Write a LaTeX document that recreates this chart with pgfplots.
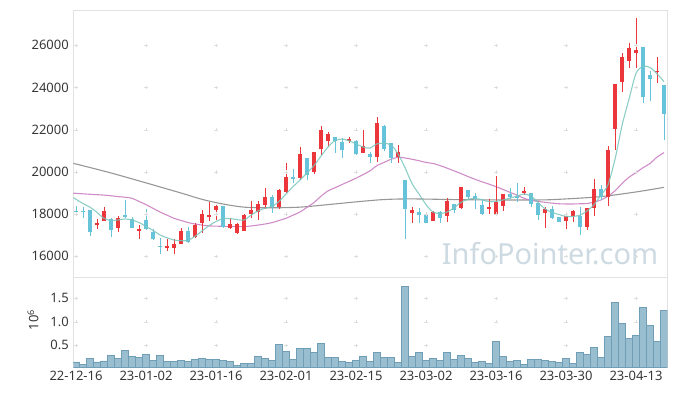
\documentclass[border=0pt]{standalone}
\usepackage{pgfplots}
\pgfplotsset{compat=1.18}
\usepackage{pgfplotstable}
\usepackage{fontspec}
\setmainfont{Noto Sans}
\definecolor{upc}{RGB}{235,55,60}
\definecolor{dnc}{RGB}{102,195,218}
\definecolor{ma5}{RGB}{120,198,188}
\definecolor{ma20}{RGB}{200,120,190}
\definecolor{ma60}{RGB}{140,140,140}
\definecolor{volf}{RGB}{152,190,208}
\definecolor{vole}{RGB}{112,158,182}
\definecolor{framec}{RGB}{226,226,226}
\definecolor{gridp}{RGB}{222,222,222}
\definecolor{labc}{RGB}{55,55,55}
\definecolor{wm}{RGB}{205,218,226}

\pgfplotstableread{
i o h l c
3 17500 17768 17279 17595
4 17690 18321 17690 18148
6 17358 17910 17136 17800
9 17230 17484 16805 17294
13 16394 16805 16267 16489
14 16410 16805 16109 16568
15 16583 17358 16560 17200
17 16899 17594 16852 17484
18 17563 18195 17089 17990
19 17880 18590 17690 17960
20 18195 18432 17721 18385
22 17358 17832 17294 17531
23 17089 17560 17041 17531
24 17215 18005 17200 17958
25 17990 18621 17800 18195
26 18116 18637 17721 18464
27 18432 19222 18226 18795
29 18321 19175 18226 19143
30 19064 20439 18985 19775
32 19696 21165 19617 20850
34 20012 20960 19886 20960
35 21087 22192 20802 21987
36 21481 21876 21228 21797
39 21481 21670 21355 21544
41 20881 21987 20881 21244
43 20723 22619 20486 22303
46 20692 21276 20439 20929
48 18037 18353 17594 18195
51 17690 18150 17650 18100
53 17926 18748 17642 18622
55 18274 19301 18227 19269
59 18243 18700 18005 18353
60 17958 19807 17958 18575
61 18400 18953 18164 18953
64 18985 19301 18906 19096
67 18069 18353 17357 18227
70 17690 18116 17279 17910
71 17910 18195 17642 18148
73 17405 18275 17247 18275
74 18275 19649 17910 19190
76 18796 21229 18385 21039
77 22019 24167 21039 24167
78 24278 25653 23804 25431
79 25274 26127 24910 25858
80 25653 27280 24910 25779
83 24720 25431 24199 24800
}\up

\pgfplotstableread{
i o h l c
0 18150 18400 18050 18100
1 18150 18350 17800 18120
2 18195 18200 16963 17168
5 17753 17800 16900 17247
7 17960 18669 17800 17900
8 17753 17880 17330 17358
10 17721 18227 17247 17310
11 17168 17278 16773 16805
12 16490 16852 16109 16450
16 17200 17373 16647 16694
21 18385 18400 17350 17373
28 18795 18906 18037 18321
31 19743 20123 19459 19664
33 20644 20644 19617 19854
37 21639 21639 20913 21481
38 21434 21623 20676 21039
40 21481 21513 20802 20834
42 20850 20960 20407 20692
44 22177 22200 21000 21071
45 21355 21355 20407 20644
47 19617 19617 16805 18227
49 18085 18274 17594 17958
50 18005 18005 17594 17594
52 18085 18164 17594 17800
54 18480 18480 18037 18195
56 19143 19143 18700 18827
57 18859 19017 18227 18717
58 18432 18700 17958 18005
62 18938 19222 18700 18827
63 18830 19490 18590 18790
65 18985 19017 18322 18464
66 18543 18543 17721 17958
68 18243 18385 17753 17832
69 17879 17879 17642 17642
72 17910 18322 17010 17405
75 19190 19380 18670 18827
81 25905 25905 23251 23567
82 24594 24800 23377 24404
84 24120 24120 21513 22745
}\dn

\pgfplotsset{
  labfont/.style={font=\fontsize{13}{15}\selectfont, text=labc},
  candle/.style n args={2}{draw=none, mark=none, forget plot,
    error bars/.cd, y dir=both, y explicit, error mark=none,
    error bar style={line width=#1, draw=#2}},
}

\begin{document}
\begin{tikzpicture}
\useasboundingbox (0pt,0pt) rectangle (677pt,396pt);
\node[text=wm, font=\fontsize{29}{29}\selectfont, anchor=base] at (550pt,131pt) {InfoPointer.com};

% ---------------- price panel ----------------
\begin{axis}[
  at={(73.3pt,118.3pt)}, anchor=south west, scale only axis,
  width=594pt, height=267pt,
  xmin=-0.386, xmax=84.47, ymin=14986, ymax=27641,
  axis line style={draw=framec, line width=0.8pt},
  xtick=\empty,
  ytick={16000,18000,20000,22000,24000,26000},
  scaled y ticks=false,
  yticklabel style={labfont, xshift=-1pt},
  /pgf/number format/.cd, 1000 sep={}, assume math mode=true,
  /pgfplots/.cd,
  major tick length=0pt, tick style={draw=none},
  clip=true,
]
\addplot[only marks, mark=+, mark size=1.7pt, gridp, forget plot] coordinates {
(0,16000)(10,16000)(20,16000)(30,16000)(40,16000)(50,16000)(60,16000)(70,16000)(80,16000)
(0,18000)(10,18000)(20,18000)(30,18000)(40,18000)(50,18000)(60,18000)(70,18000)(80,18000)
(0,20000)(10,20000)(20,20000)(30,20000)(40,20000)(50,20000)(60,20000)(70,20000)(80,20000)
(0,22000)(10,22000)(20,22000)(30,22000)(40,22000)(50,22000)(60,22000)(70,22000)(80,22000)
(0,24000)(10,24000)(20,24000)(30,24000)(40,24000)(50,24000)(60,24000)(70,24000)(80,24000)
(0,26000)(10,26000)(20,26000)(30,26000)(40,26000)(50,26000)(60,26000)(70,26000)(80,26000)
};
% MA60 (gray)
\addplot[ma60, line width=1.1pt, smooth, opacity=0.9] coordinates {
(-0.4,20400)(0,20375)(5,19950)(10,19480)(15,19000)(18,18700)(21,18480)(24,18330)(28,18300)(32,18330)(36,18450)(40,18580)(44,18690)(48,18720)(56,18680)(66,18670)(70,18720)(75,18830)(80,19050)(84,19269)
};
% MA20 (pink)
\addplot[ma20, line width=1.1pt, smooth, opacity=0.85] coordinates {
(-0.4,18990)(0,18985)(1,18960)(2,18940)(3,18920)(4,18900)(5,18870)(6,18830)(7,18800)(8,18750)(9,18600)(10,18450)(11,18274)(12,18100)(13,17950)(14,17800)(15,17700)(16,17600)(17,17530)(18,17480)(19,17440)(20,17430)(21,17420)(22,17420)(23,17410)(24,17405)(25,17440)(26,17480)(27,17530)(28,17594)(29,17700)(30,17800)(31,17950)(32,18100)(33,18320)(34,18550)(35,18850)(36,19100)(37,19250)(38,19400)(39,19550)(40,19700)(41,19870)(42,20050)(43,20300)(44,20450)(45,20600)(46,20692)(47,20660)(48,20600)(49,20530)(50,20450)(51,20400)(52,20300)(53,20180)(54,20050)(55,19920)(56,19780)(57,19650)(58,19530)(59,19420)(60,19300)(61,19170)(62,19030)(63,18900)(64,18750)(65,18650)(66,18600)(67,18560)(68,18520)(69,18490)(70,18480)(71,18480)(72,18490)(73,18500)(74,18570)(75,18669)(76,18850)(77,19100)(78,19450)(79,19750)(80,19965)(81,20200)(82,20400)(83,20700)(84,20913)
};
% candles: wicks
\addplot[candle={1pt}{upc}]
  table[x=i, y expr={(\thisrow{h}+\thisrow{l})/2}, y error expr={(\thisrow{h}-\thisrow{l})/2}] {\up};
\addplot[candle={1pt}{dnc}]
  table[x=i, y expr={(\thisrow{h}+\thisrow{l})/2}, y error expr={(\thisrow{h}-\thisrow{l})/2}] {\dn};
% candles: bodies
\addplot[candle={4.7pt}{upc}]
  table[x=i, y expr={(\thisrow{o}+\thisrow{c})/2}, y error expr={max(abs(\thisrow{c}-\thisrow{o})/2,25)}] {\up};
\addplot[candle={4.7pt}{dnc}]
  table[x=i, y expr={(\thisrow{o}+\thisrow{c})/2}, y error expr={max(abs(\thisrow{c}-\thisrow{o})/2,25)}] {\dn};
% MA5 (teal)
\addplot[ma5, line width=1.1pt, smooth, opacity=0.85] coordinates {
(-0.4,18780)(0,18700)(1,18500)(2,18330)(3,18080)(4,17800)(5,17700)(6,17720)(7,17770)(8,17720)(9,17600)(10,17420)(11,17230)(12,17010)(13,16880)(14,16770)(15,16740)(16,16760)(17,16950)(18,17200)(19,17450)(20,17650)(21,17780)(22,17790)(23,17740)(24,17720)(25,17950)(26,18150)(27,18280)(28,18360)(29,18600)(30,18950)(31,19300)(32,19617)(33,19950)(34,20300)(35,20750)(36,21180)(37,21480)(38,21560)(39,21470)(40,21330)(41,21180)(42,21130)(43,21330)(44,21350)(45,21280)(46,20850)(47,20200)(48,19450)(49,18950)(50,18450)(51,18100)(52,18030)(53,18100)(54,18300)(55,18560)(56,18700)(57,18740)(58,18680)(59,18590)(60,18600)(61,18670)(62,18760)(63,18850)(64,18950)(65,18850)(66,18550)(67,18250)(68,18080)(69,17980)(70,17890)(71,17890)(72,17950)(73,18150)(74,18450)(75,18900)(76,19400)(77,20600)(78,22200)(79,23450)(80,24670)(81,25000)(82,24950)(83,24650)(84,24280)
};
\end{axis}

% ---------------- volume panel ----------------
\begin{axis}[
  at={(73.3pt,28.7pt)}, anchor=south west, scale only axis,
  width=594pt, height=89.6pt,
  xmin=-0.386, xmax=84.47, ymin=0.032, ymax=1.938,
  axis line style={draw=framec, line width=0.8pt},
  xtick={0,10,20,30,40,50,60,70,80},
  xticklabels={22-12-16,23-01-02,23-01-16,23-02-01,23-02-15,23-03-02,23-03-16,23-03-30,23-04-13},
  xticklabel style={labfont, yshift=0pt},
  ytick={0.5,1,1.5}, yticklabels={0.5,1.0,1.5},
  yticklabel style={labfont, xshift=-1pt},
  major tick length=0pt, tick style={draw=none},
  clip=true,
]
\addplot[only marks, mark=+, mark size=1.7pt, gridp, forget plot] coordinates {
(0,0.5)(10,0.5)(20,0.5)(30,0.5)(40,0.5)(50,0.5)(70,0.5)
(0,1)(10,1)(20,1)(30,1)(40,1)(50,1)(60,1)(70,1)(80,1)
(0,1.5)(10,1.5)(20,1.5)(30,1.5)(40,1.5)(50,1.5)(60,1.5)(70,1.5)(80,1.5)
};
\addplot[ybar, bar width=1, bar shift=0pt, fill=volf, draw=vole, line width=0.7pt] coordinates {
(0,0.145)(1,0.096)(2,0.223)(3,0.145)(4,0.167)(5,0.287)(6,0.223)(7,0.394)(8,0.266)(9,0.245)
(10,0.309)(11,0.181)(12,0.287)(13,0.16)(14,0.16)(15,0.181)(16,0.16)(17,0.202)(18,0.223)(19,0.202)
(20,0.202)(21,0.181)(22,0.16)(23,0.074)(24,0.117)(25,0.117)(26,0.266)(27,0.223)(28,0.181)(29,0.521)
(30,0.372)(31,0.202)(32,0.436)(33,0.436)(34,0.351)(35,0.543)(36,0.245)(37,0.245)(38,0.16)(39,0.138)
(40,0.181)(41,0.266)(42,0.16)(43,0.351)(44,0.245)(45,0.245)(46,0.138)(47,1.755)(48,0.266)(49,0.351)
(50,0.181)(51,0.223)(52,0.181)(53,0.351)(54,0.202)(55,0.287)(56,0.223)(57,0.138)(58,0.16)(59,0.117)
(60,0.585)(61,0.266)(62,0.16)(63,0.181)(64,0.096)(65,0.202)(66,0.202)(67,0.181)(68,0.16)(69,0.138)
(70,0.223)(71,0.117)(72,0.351)(73,0.309)(74,0.457)(75,0.245)(76,0.691)(77,1.415)(78,0.968)(79,0.649)
(80,0.713)(81,1.309)(82,0.926)(83,0.585)(84,1.245)
};
\end{axis}
\node[rotate=90, font=\fontsize{13}{15}\selectfont, text=labc] at (33pt,76pt) {10\textsuperscript{6}};
\end{tikzpicture}
\end{document}
